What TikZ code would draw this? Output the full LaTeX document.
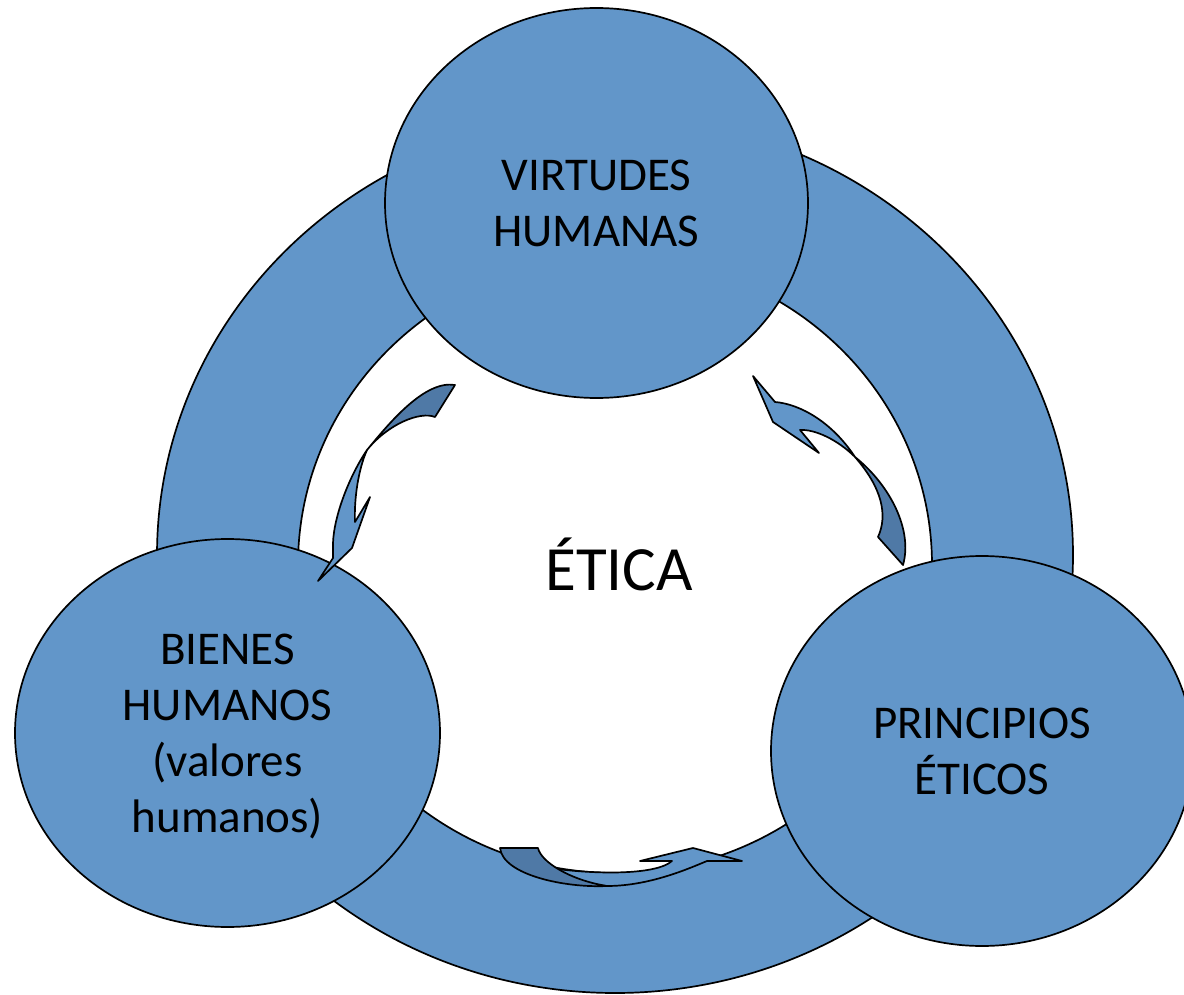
\documentclass[tikz,border=0pt]{standalone}
\usepackage{fontspec}
\setmainfont{Carlito}
\usetikzlibrary{shapes.geometric}
\definecolor{ringblue}{RGB}{98,150,201}
\definecolor{arrowblue}{RGB}{79,121,166}

\begin{document}
\begin{tikzpicture}[x=1pt, y=-1pt, line width=1.7pt, line join=round]

			\tikzstyle{bubble}=[ellipse, draw=black, fill=ringblue, inner sep=0pt, text depth=0pt, align=center, font=\fontsize{47}{56}\selectfont]
			\tikzstyle{bandfront}=[draw=black, fill=ringblue]
			\tikzstyle{bandback}=[draw=black, fill=arrowblue]

			\useasboundingbox (0,0) rectangle (1184,995);

			% ring
			\draw[fill=ringblue, even odd rule] (615,555) ellipse [x radius=458, y radius=438] (615,565) ellipse [x radius=317, y radius=308];

			\node[bubble, minimum width=423pt, minimum height=390pt] (virtudes) at (596.5,203) {VIRTUDES\\HUMANAS};
			\node[bubble, minimum width=425pt, minimum height=388pt] (bienes) at (227.5,733) {BIENES\\HUMANOS\\(valores\\humanos)};
			\node[bubble, minimum width=422pt, minimum height=390pt] (principios) at (982,751) {PRINCIPIOS\\ÉTICOS};
			\node[anchor=base, font=\fontsize{63}{75}\selectfont] (etica) at (619,590) {ÉTICA};

			% virtudes -> bienes
			\draw[bandback] (367,450) .. controls (390,422) and (425,380) .. (455,385) -- (435,417)
				.. controls (420,411) and (388,424) .. (367,450) -- cycle;
			\draw[bandfront] (367,450) .. controls (358,470) and (354,500) .. (355,522) -- (370,497) -- (352,548)
				-- (318,581) -- (333,558) -- (333,543) .. controls (334,515) and (350,475) .. (367,450) -- cycle;

			% virtudes -> principios
			\draw[bandfront] (753,376) -- (775,402) .. controls (800,404) and (832,422) .. (855,457)
				.. controls (838,440) and (815,429) .. (800,430) -- (819,453) -- (773,422) -- cycle;
			\draw[bandback] (855,457) .. controls (890,485) and (913,530) .. (903,565) -- (878,537)
				.. controls (888,515) and (882,488) .. (855,457) -- cycle;

			% bienes -> principios
			\draw[bandfront] (550,868) .. controls (590,874) and (655,876) .. (672,861) -- (640,861) -- (693,848)
				-- (742,861) -- (707,861) .. controls (690,868) and (650,886) .. (607,886)
				.. controls (580,884) and (560,876) .. (550,868) -- cycle;
			\draw[bandback] (500,848) -- (538,848) .. controls (541,862) and (570,880) .. (607,886)
				.. controls (565,888) and (503,875) .. (500,848) -- cycle;

\end{tikzpicture}
\end{document}
